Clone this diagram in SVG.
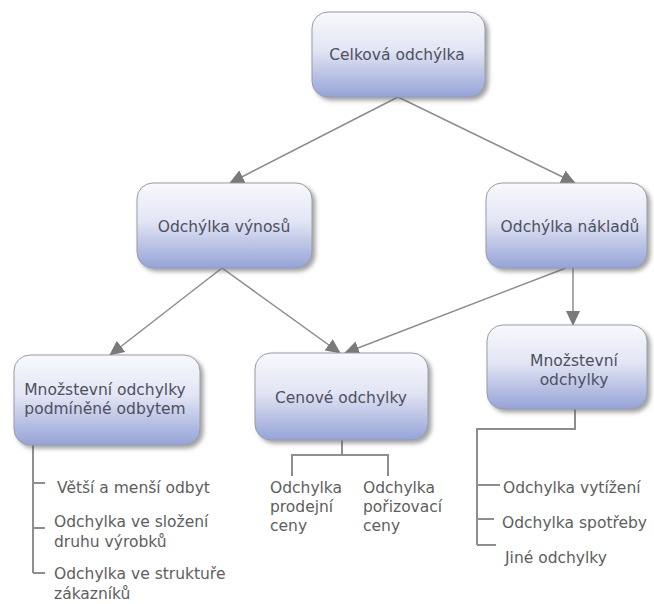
<svg xmlns="http://www.w3.org/2000/svg" width="654" height="604" viewBox="0 0 654 604">
<defs>
<linearGradient id="g" x1="0" y1="0" x2="0" y2="1">
<stop offset="0" stop-color="#f8f9fd"/>
<stop offset="0.45" stop-color="#e2e5f4"/>
<stop offset="1" stop-color="#95a3d7"/>
</linearGradient>
<filter id="sh" x="-10%" y="-10%" width="125%" height="130%">
<feDropShadow dx="3" dy="3" stdDeviation="2" flood-color="#555" flood-opacity="0.55"/>
</filter>
<marker id="ah" markerUnits="userSpaceOnUse" markerWidth="16" markerHeight="14" refX="14" refY="7" orient="auto">
<path d="M0,0 L15,7 L0,14 Z" fill="#7a7a7a"/>
</marker>
</defs>
<style>
.box{fill:url(#g);stroke:#9a9aa6;stroke-width:1;filter:url(#sh)}
.nt{font-family:"DejaVu Sans",Verdana,sans-serif;font-size:15.5px;fill:#4e5060;text-anchor:middle}
.tt{font-family:"DejaVu Sans",Verdana,sans-serif;font-size:15.5px;fill:#5e5e5e}
.con{stroke:#8c8c8c;stroke-width:1.5;fill:none;marker-end:url(#ah)}
.tree{stroke:#8e8e8e;stroke-width:2;fill:none}
</style>
<g id="connectors">
<path class="con" d="M398,97 L230,183"/>
<path class="con" d="M398,97 L575,183"/>
<path class="con" d="M222,268 L110,355"/>
<path class="con" d="M222,268 L340,353"/>
<path class="con" d="M566,268 L345,353"/>
<path class="con" d="M573,268 L573,325"/>
<path class="tree" d="M33,445 L33,573 M33,483 L45,483 M33,528 L45,528 M33,573 L45,573"/>
<path class="tree" d="M342,440 L342,455 M292,476 L292,455 L388,455 L388,476"/>
<path class="tree" d="M575,409 L575,429 L477,429 L477,545 M477,485 L500,485 M477,519 L494,519 M477,545 L496,545"/>
</g>
<g id="n1">
<rect class="box" x="312" y="12" width="173" height="85" rx="16"/>
<text class="nt" x="397" y="60">Celková odchýlka</text>
</g>
<g id="n2">
<rect class="box" x="137" y="183" width="175" height="85" rx="16"/>
<text class="nt" x="224" y="232">Odchýlka výnosů</text>
</g>
<g id="n3">
<rect class="box" x="486" y="183" width="161" height="85" rx="16"/>
<text class="nt" x="570" y="232">Odchýlka nákladů</text>
</g>
<g id="n4">
<rect class="box" x="14" y="355" width="186" height="90" rx="16"/>
<text class="nt" x="105" y="395">Množstevní odchylky</text>
<text class="nt" x="105" y="414">podmíněné odbytem</text>
</g>
<g id="n5">
<rect class="box" x="255" y="353" width="173" height="87" rx="16"/>
<text class="nt" x="341" y="403">Cenové odchylky</text>
</g>
<g id="n6">
<rect class="box" x="487" y="325" width="160" height="84" rx="16"/>
<text class="nt" x="574" y="366">Množstevní</text>
<text class="nt" x="574" y="385">odchylky</text>
</g>
<g id="t4">
<text class="tt" x="57" y="493">Větší a menší odbyt</text>
<text class="tt" x="54" y="527">Odchylka ve složení</text>
<text class="tt" x="54" y="547">druhu výrobků</text>
<text class="tt" x="54" y="579">Odchylka ve struktuře</text>
<text class="tt" x="54" y="599">zákazníků</text>
</g>
<g id="t5">
<text class="tt" x="270" y="493">Odchylka</text>
<text class="tt" x="270" y="512">prodejní</text>
<text class="tt" x="270" y="531">ceny</text>
<text class="tt" x="363" y="493">Odchylka</text>
<text class="tt" x="363" y="512">pořizovací</text>
<text class="tt" x="363" y="531">ceny</text>
</g>
<g id="t6">
<text class="tt" x="503" y="493">Odchylka vytížení</text>
<text class="tt" x="502" y="528">Odchylka spotřeby</text>
<text class="tt" x="505" y="563">Jiné odchylky</text>
</g>
</svg>
